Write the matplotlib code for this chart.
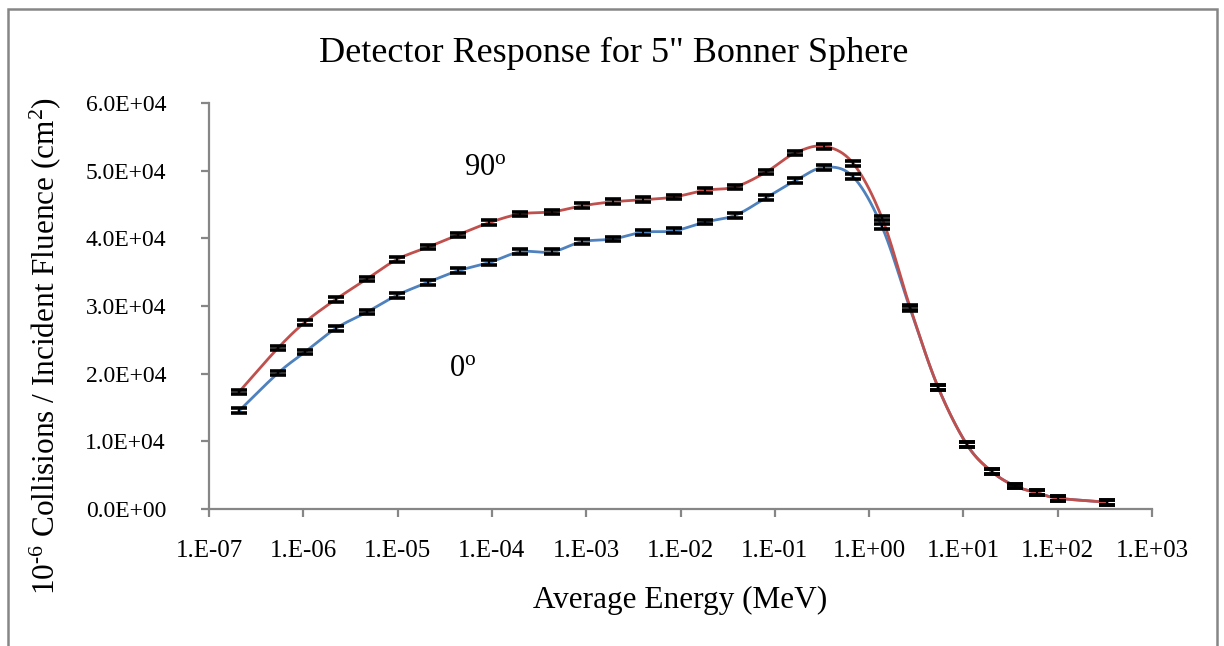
import numpy as np
import matplotlib
matplotlib.use("Agg")
import matplotlib.pyplot as plt
from matplotlib.ticker import FuncFormatter, FixedLocator
from matplotlib.patches import Rectangle

plt.rcParams['font.family'] = ['Liberation Serif', 'DejaVu Serif']
plt.rcParams['mathtext.fontset'] = 'custom'
plt.rcParams['mathtext.rm'] = 'Liberation Serif'
plt.rcParams['mathtext.it'] = 'Liberation Serif:italic'
plt.rcParams['mathtext.default'] = 'regular'

# energies (MeV)
energy = [2.08e-7, 5.4e-7, 1.04e-6, 2.22e-6, 4.73e-6, 9.9e-6, 2.1e-5, 4.37e-5,
          9.3e-5, 1.99e-4, 4.34e-4, 9.0e-4, 1.92e-3, 4.0e-3, 8.5e-3, 1.82e-2,
          3.8e-2, 8.1e-2, 0.164, 0.333, 0.675, 1.37, 2.72, 5.38, 10.9, 20.1,
          35.2, 60.3, 100.7, 333.0]

resp_90 = [17300, 23800, 27600, 31000, 34000, 36900, 38700, 40500,
           42300, 43600, 43900, 44800, 45400, 45700, 46100, 47100,
           47600, 49800, 52600, 53600, 51100, 43000, 29800, 18000,
           9500, 5500, 3400, 2400, 1600, 1000]

resp_0 = [14500, 20100, 23200, 26700, 29100, 31600, 33500, 35200,
          36400, 38000, 38000, 39500, 39900, 40900, 41100, 42400,
          43400, 46000, 48500, 50500, 49100, 41700, 29600, 18000,
          9500, 5500, 3400, 2400, 1600, 1000]

err_90 = [350] * len(energy)
err_0 = [350] * len(energy)

xticks = [1e-7, 1e-6, 1e-5, 1e-4, 1e-3, 1e-2, 1e-1, 1e0, 1e1, 1e2, 1e3]
yticks = [0, 10000, 20000, 30000, 40000, 50000, 60000]


def smooth(x, y, n=20):
    # Catmull-Rom through the points in log-x space (like Excel's smoothed line)
    lx = np.log10(x)
    y = np.asarray(y, float)
    P = np.column_stack([lx, y])
    P = np.vstack([2 * P[0] - P[1], P, 2 * P[-1] - P[-2]])
    out = []
    t = np.linspace(0, 1, n, endpoint=False)
    for i in range(1, len(P) - 2):
        p0, p1, p2, p3 = P[i - 1], P[i], P[i + 1], P[i + 2]
        m1 = (p2 - p0) / 2
        m2 = (p3 - p1) / 2
        h00 = 2 * t**3 - 3 * t**2 + 1
        h10 = t**3 - 2 * t**2 + t
        h01 = -2 * t**3 + 3 * t**2
        h11 = t**3 - t**2
        seg = (h00[:, None] * p1 + h10[:, None] * m1 +
               h01[:, None] * p2 + h11[:, None] * m2)
        out.append(seg)
    out.append(P[-2][None, :])
    out = np.vstack(out)
    return 10 ** out[:, 0], out[:, 1]


fig = plt.figure(figsize=(12.24, 6.46), dpi=100)
ax = fig.add_axes([0.1708, 0.2121, 0.7704, 0.6285])

gray = '#868686'
for xs, ys, es, col in [(energy, resp_0, err_0, '#4F81BD'),
                        (energy, resp_90, err_90, '#C0504D')]:
    sx, sy = smooth(xs, ys)
    ax.plot(sx, sy, color=col, lw=2.0, zorder=2)
    ax.errorbar(xs, ys, yerr=es, fmt='none', ecolor='black', elinewidth=1.5,
                capsize=6, capthick=2.6, zorder=3)

ax.set_xscale('log')
ax.set_xlim(1e-7, 1e3)
ax.set_ylim(0, 60000)
ax.xaxis.set_major_locator(FixedLocator(xticks))
ax.xaxis.set_minor_locator(FixedLocator([]))
ax.yaxis.set_major_locator(FixedLocator(yticks))
ax.xaxis.set_major_formatter(FuncFormatter(
    lambda v, p: "1.E%+03d" % int(round(np.log10(v)))))
ax.yaxis.set_major_formatter(FuncFormatter(lambda v, p: "%.1E" % v))

for s in ['top', 'right']:
    ax.spines[s].set_visible(False)
for s in ['left', 'bottom']:
    ax.spines[s].set_color(gray)
    ax.spines[s].set_linewidth(1.6)
ax.tick_params(axis='x', direction='out', length=6, width=1.6, color=gray,
               labelsize=18, pad=16)
ax.tick_params(axis='y', direction='out', length=6, width=1.6, color=gray,
               labelsize=17, pad=25)

ax.text(8.5e-5, 50400, "90$^{o}$", fontsize=22, ha='center', va='center')
ax.text(4.9e-5, 20800, "0$^{o}$", fontsize=22, ha='center', va='center')

fig.text(0.5016, 0.918, 'Detector Response for 5" Bonner Sphere', fontsize=26,
         ha='center', va='center')
fig.text(0.556, 0.07, "Average Energy (MeV)", fontsize=22.5,
         ha='center', va='center')
fig.text(0.037, 0.464, r"10$^{\text{-}6}$ Collisions / Incident Fluence (cm$^{2}$)",
         fontsize=22.5, ha='center', va='center', rotation=90)

fig.add_artist(Rectangle((8 / 1224, -0.2), 1209 / 1224, 1.2 - 9 / 646,
                         transform=fig.transFigure, fill=False,
                         edgecolor=gray, lw=1.8))

fig.savefig("out.png", dpi=100)
